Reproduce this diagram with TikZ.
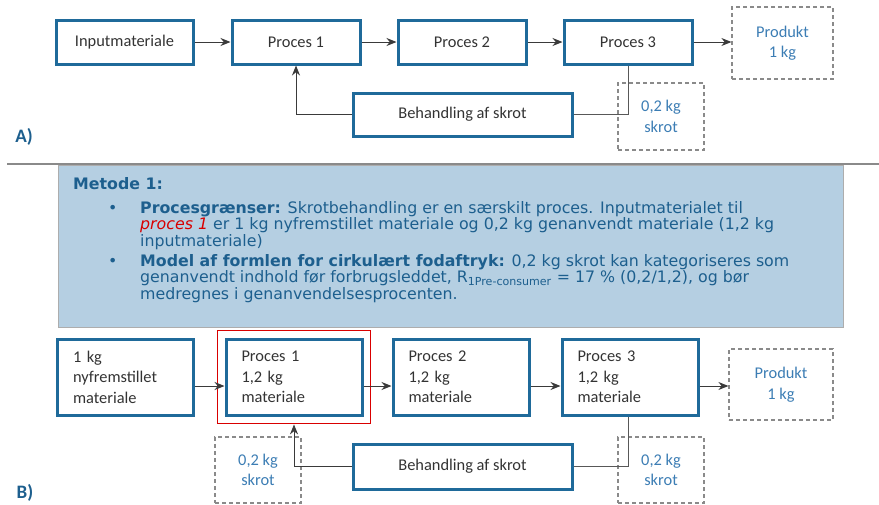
\documentclass[tikz,border=0pt]{standalone}
\usepackage{fontspec}
\setmainfont{Carlito}
\newfontfamily\notefont{DejaVu Sans}
\usetikzlibrary{arrows.meta,fit}
\definecolor{boxblue}{HTML}{1F6A9A}
\definecolor{txtgrey}{HTML}{333333}
\definecolor{kgblue}{HTML}{3C7DB4}
\definecolor{noteblue}{HTML}{1D5F8E}
\definecolor{notefill}{HTML}{B5CFE2}
\definecolor{linegrey}{HTML}{8A8A8A}
\definecolor{arrowgrey}{HTML}{3A3A3A}
\newcommand{\boxfont}{\fontsize{16.4}{20.5}\selectfont}
\newcommand{\notesize}{\fontsize{15.8}{16.5}\selectfont}

\begin{document}
\begin{tikzpicture}[x=1pt, y=-1pt,
    procbox/.style={draw=boxblue, line width=3pt, font=\boxfont, text=txtgrey, inner sep=0pt},
    procboxB/.style={procbox, minimum height=76, text width=105, inner xsep=15.5, align=left},
    dashbox/.style={draw=linegrey, dash pattern=on 4pt off 3pt, line width=1.2pt, font=\boxfont, text=kgblue, align=center},
    flow/.style={-{Stealth[length=10pt,width=8pt]}, line width=1pt, draw=arrowgrey},
    feed/.style={line width=1pt, draw=arrowgrey!85},
    noteline/.style={anchor=base west, inner sep=0pt, font=\notefont\notesize, text=noteblue},
    partlabel/.style={font=\fontsize{19}{22}\selectfont\bfseries, text=noteblue}
]
    \useasboundingbox (0,0) rectangle (879,504);

    % A) process chain
    \node[procbox, minimum width=137, minimum height=44] (inA) at (124.5,42) {Inputmateriale};
    \node[procbox, minimum width=128, minimum height=44] (p1a) at (296,42) {Proces 1};
    \node[procbox, minimum width=128, minimum height=44] (p2a) at (462,42) {Proces 2};
    \node[procbox, minimum width=128, minimum height=44] (p3a) at (628,42) {Proces 3};
    \node[dashbox, minimum width=101, minimum height=72] (prodA) at (782.5,43) {Produkt\\1 kg};
    \node[procbox, minimum width=219, minimum height=43] (behA) at (462.5,114.5) {Behandling af skrot};
    \node[dashbox, minimum width=86, minimum height=67] (skrotA) at (661,116.5) {0,2 kg\\skrot};
    \node[partlabel] (labA) at (24,137) {A)};

    \draw[flow] (inA) -- (p1a);
    \draw[flow] (p1a) -- (p2a);
    \draw[flow] (p2a) -- (p3a);
    \draw[flow] (p3a) -- (prodA.west |- p3a.east);
    \draw[feed] (p3a.south) |- (behA.east);
    \draw[flow] (behA.west) -| (p1a.south);

    % Metode 1 note
    \draw[linegrey, line width=1.6pt] (7,164) -- (879,164);
    \draw[fill=notefill, draw=linegrey!70] (58,165) rectangle (843,327);
    \node[noteline, font=\notefont\notesize\bfseries] (met) at (73,189) {Metode 1:};
    \node[noteline] (bul1) at (108,213) {\textbullet};
    \node[noteline] (n1) at (140,213) {\textbf{Procesgrænser:} Skrotbehandling er en særskilt proces. Inputmaterialet til};
    \node[noteline] (n2) at (140,229.5) {\textcolor{red!85!black}{\itshape proces 1} er 1 kg nyfremstillet materiale og 0,2 kg genanvendt materiale (1,2 kg};
    \node[noteline] (n3) at (140,246) {inputmateriale)};
    \node[noteline] (bul2) at (108,266) {\textbullet};
    \node[noteline] (n4) at (140,266) {\textbf{Model af formlen for cirkulært fodaftryk:} 0,2 kg skrot kan kategoriseres som};
    \node[noteline] (n5) at (140,282.5) {genanvendt indhold før forbrugsleddet, R\textsubscript{1Pre-consumer} = 17 \% (0,2/1,2), og bør};
    \node[noteline] (n6) at (140,299) {medregnes i genanvendelsesprocenten.};

    % B) process chain
    \node[procboxB] (inB) at (125.5,377) {1 kg\\nyfremstillet\\materiale};
    \node[procboxB] (p1b) at (294,377) {Proces 1\\1,2 kg\\materiale};
    \node[draw=red!85!black, line width=1.8pt, inner sep=7pt, fit=(p1b)] (redB) {};
    \node[procboxB] (p2b) at (461,377) {Proces 2\\1,2 kg\\materiale};
    \node[procboxB] (p3b) at (630,377) {Proces 3\\1,2 kg\\materiale};
    \node[dashbox, minimum width=104, minimum height=71] (prodB) at (781,384.5) {Produkt\\1 kg};
    \node[procbox, minimum width=219, minimum height=45] (behB) at (462.5,466.5) {Behandling af skrot};
    \node[dashbox, minimum width=86, minimum height=66] (skrotL) at (258,470) {0,2 kg\\skrot};
    \node[dashbox, minimum width=86, minimum height=66] (skrotR) at (661,470) {0,2 kg\\skrot};
    \node[partlabel] (labB) at (25,493) {B)};

    \draw[flow] ([yshift=-9pt]inB.east) -- ([yshift=-9pt]p1b.west);
    \draw[flow] ([yshift=-9pt]p1b.east) -- ([yshift=-9pt]p2b.west);
    \draw[flow] ([yshift=-9pt]p2b.east) -- ([yshift=-9pt]p3b.west);
    \draw[flow] ([yshift=-9pt]p3b.east) -- ([yshift=-1.5pt]prodB.west);
    \draw[feed] ([xshift=-2pt]p3b.south) |- (behB.east);
    \draw[flow] (behB.west) -| (redB.south);
\end{tikzpicture}
\end{document}
